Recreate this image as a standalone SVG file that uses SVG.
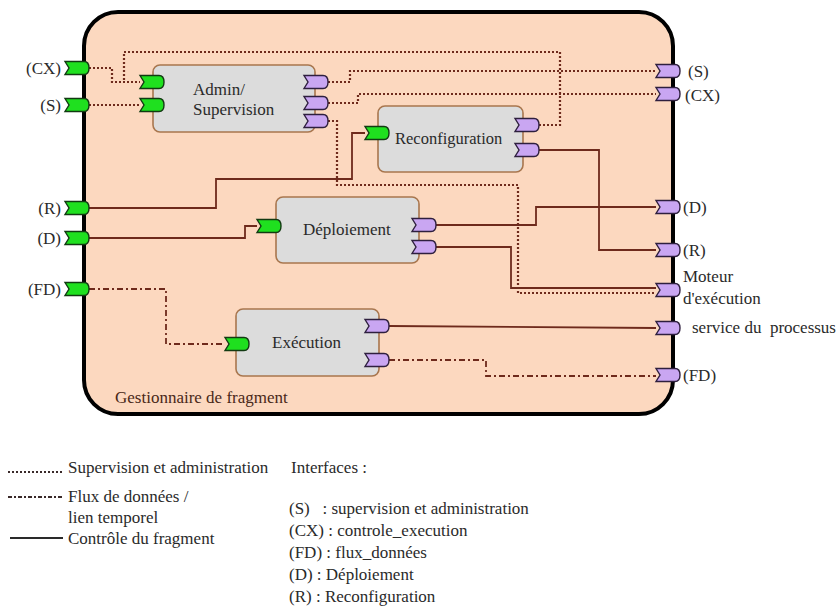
<svg xmlns="http://www.w3.org/2000/svg" width="840" height="608" viewBox="0 0 840 608" font-family="'Liberation Serif', 'DejaVu Serif', 'Times New Roman', Times, serif">
<style>
  text { font-size: 17px; fill: #2a2a2a; }
  .box { fill: #dcdcdc; stroke: #a8764e; stroke-width: 1.6; }
  .pin { fill: #1fe01f; stroke: #123a12; stroke-width: 1.4; }
  .pout { fill: #c9a6f2; stroke: #2e1f3e; stroke-width: 1.4; }
  .c { fill: none; stroke: #6e2a1c; }
  .dot { stroke-width: 2.2; stroke-dasharray: 2 2; }
  .dd { stroke-width: 1.8; stroke-dasharray: 6 3 2 3; }
  .sol { stroke-width: 1.8; }
</style>
<defs>
  <path id="port" d="M0,-6.5 H19 Q24,-6.5 24,0 Q24,6.5 19,6.5 H0 L4,0 Z"/>
</defs>
<rect x="84" y="12" width="589" height="402" rx="34" ry="34" fill="#fcd8bf" stroke="#000" stroke-width="4"/>
<text x="115" y="403" font-family="Liberation Serif, serif" style="fill:#4a2818">Gestionnaire de fragment</text>

<g id="connectors">
  <path class="c dot" d="M89,68 H112 V82 H140"/>
  <path class="c dot" d="M539,125 H560 V52 H124 V82"/>
  <path class="c dot" d="M89,105 H140"/>
  <path class="c dot" d="M328,82 H350 V71 H656"/>
  <path class="c dot" d="M328,103 H358 V94 H656"/>
  <path class="c dot" d="M328,121 H337 V185 H518 V293 H656"/>
  <path class="c sol" d="M89,208 H216 V179 H352 V133 H365"/>
  <path class="c sol" d="M89,238 H245 V226 H257"/>
  <path class="c sol" d="M539,150 H599 V250 H656"/>
  <path class="c sol" d="M436,225 H536 V207 H656"/>
  <path class="c sol" d="M436,247 H511 V288 H656"/>
  <path class="c sol" d="M389,326 L656,328"/>
  <path class="c dd" d="M89,289 H166 V344 H225"/>
  <path class="c dd" d="M389,360 H486 V376 H656"/>
</g>

<g id="admin" font-family="Liberation Serif, serif">
  <rect class="box" x="153" y="65" width="162" height="67" rx="7"/>
  <text x="193" y="95">Admin/</text>
  <text x="193" y="115">Supervision</text>
  <use href="#port" class="pin" x="140" y="82"/>
  <use href="#port" class="pin" x="140" y="105"/>
  <use href="#port" class="pout" x="304" y="82"/>
  <use href="#port" class="pout" x="304" y="103"/>
  <use href="#port" class="pout" x="304" y="121"/>
</g>

<g id="reconfiguration" font-family="Liberation Serif, serif">
  <rect class="box" x="378" y="106" width="145" height="66" rx="7"/>
  <text x="395" y="144" style="font-size:16.5px">Reconfiguration</text>
  <use href="#port" class="pin" x="365" y="133"/>
  <use href="#port" class="pout" x="515" y="125"/>
  <use href="#port" class="pout" x="515" y="150"/>
</g>

<g id="deploiement" font-family="Liberation Serif, serif">
  <rect class="box" x="276" y="197" width="143" height="66" rx="7"/>
  <text x="303" y="235">Déploiement</text>
  <use href="#port" class="pin" x="257" y="226"/>
  <use href="#port" class="pout" x="412" y="225"/>
  <use href="#port" class="pout" x="412" y="247"/>
</g>

<g id="execution" font-family="Liberation Serif, serif">
  <rect class="box" x="236" y="309" width="143" height="67" rx="7"/>
  <text x="272" y="348">Exécution</text>
  <use href="#port" class="pin" x="225" y="344"/>
  <use href="#port" class="pout" x="365" y="326"/>
  <use href="#port" class="pout" x="365" y="360"/>
</g>

<g id="ports-left" font-family="Liberation Serif, serif">
  <use href="#port" class="pin" x="65" y="68"/>
  <use href="#port" class="pin" x="65" y="105"/>
  <use href="#port" class="pin" x="65" y="208"/>
  <use href="#port" class="pin" x="65" y="238"/>
  <use href="#port" class="pin" x="65" y="289"/>
  <text x="61" y="74" text-anchor="end">(CX)</text>
  <text x="61" y="111" text-anchor="end">(S)</text>
  <text x="61" y="214" text-anchor="end">(R)</text>
  <text x="61" y="244" text-anchor="end">(D)</text>
  <text x="61" y="295" text-anchor="end">(FD)</text>
</g>

<g id="ports-right" font-family="Liberation Serif, serif">
  <use href="#port" class="pout" x="656" y="71"/>
  <use href="#port" class="pout" x="656" y="94"/>
  <use href="#port" class="pout" x="656" y="207"/>
  <use href="#port" class="pout" x="656" y="250"/>
  <use href="#port" class="pout" x="656" y="290"/>
  <use href="#port" class="pout" x="656" y="328"/>
  <use href="#port" class="pout" x="656" y="375"/>
  <text x="688" y="77">(S)</text>
  <text x="685" y="101">(CX)</text>
  <text x="683" y="213">(D)</text>
  <text x="683" y="256">(R)</text>
  <text x="683" y="282">Moteur</text>
  <text x="683" y="304">d'exécution</text>
  <text x="692" y="333" xml:space="preserve">service du  processus</text>
  <text x="683" y="381">(FD)</text>
</g>

<g id="legend" font-family="Liberation Serif, serif">
  <path class="c dot" d="M8,472 H63" style="stroke:#3a2a2a"/>
  <path class="c dd" d="M8,497 H63" style="stroke:#3a2a2a;stroke-dasharray:4 2 2 2"/>
  <path class="c sol" d="M10,538 H63" style="stroke:#2a2a2a;stroke-width:2"/>
  <text x="68" y="473">Supervision et administration</text>
  <text x="68" y="502">Flux de données /</text>
  <text x="68" y="523">lien temporel</text>
  <text x="68" y="544">Contrôle du fragment</text>
  <text x="291" y="473">Interfaces :</text>
  <text x="289" y="514" xml:space="preserve">(S)   : supervision et administration</text>
  <text x="289" y="536">(CX) : controle_execution</text>
  <text x="289" y="558">(FD) : flux_données</text>
  <text x="289" y="580">(D) : Déploiement</text>
  <text x="289" y="602">(R) : Reconfiguration</text>
</g>
</svg>
